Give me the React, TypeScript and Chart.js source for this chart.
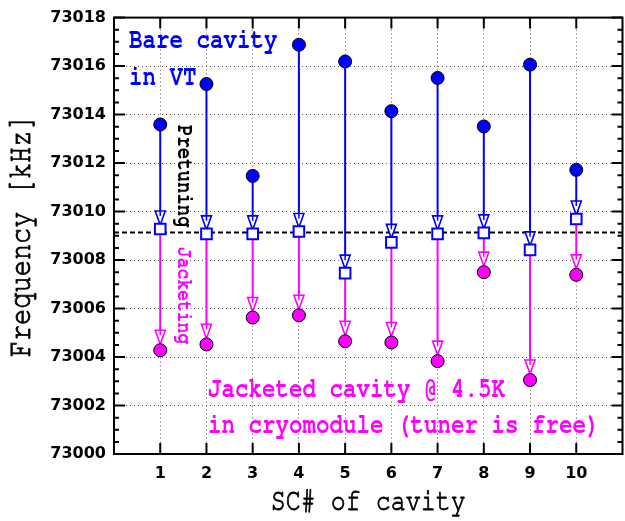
import React, { useEffect, useRef } from 'react';
import { Chart, registerables } from 'chart.js';

Chart.register(...registerables);

// ---- data ----
const CAVITIES = [1, 2, 3, 4, 5, 6, 7, 8, 9, 10];
const BARE_VT = [73013.59, 73015.26, 73011.47, 73016.88, 73016.19, 73014.14, 73015.51, 73013.51, 73016.06, 73011.72];
const PRETUNED = [73009.28, 73009.08, 73009.08, 73009.18, 73007.46, 73008.73, 73009.08, 73009.12, 73008.42, 73009.69];
const JACKETED = [73004.28, 73004.52, 73005.63, 73005.72, 73004.65, 73004.6, 73003.83, 73007.5, 73003.05, 73007.39];
const TARGET = 73009.14;
const Y_TICKS = [73000, 73002, 73004, 73006, 73008, 73010, 73012, 73014, 73016, 73018];
const X_MIN = 0;
const X_MAX = 11;
const X_TITLE = 'SC# of cavity';
const Y_TITLE = 'Frequency [kHz]';

const BLUE = '#0000ff';
const MAGENTA = '#ff00ff';
const MONO = 'FreeMono, "Courier New", monospace';
const TICKFONT = '"DejaVu Sans", sans-serif';
const STRETCH = 1.25;

function drawArrow(ctx: CanvasRenderingContext2D, x: number, y0: number, tip: number, color: string) {
  const hh = 14;
  const hw = 5;
  ctx.save();
  ctx.setLineDash([]);
  ctx.strokeStyle = color;
  ctx.lineWidth = 2;
  ctx.beginPath();
  ctx.moveTo(x, y0);
  ctx.lineTo(x, tip - hh + 2);
  ctx.stroke();
  ctx.beginPath();
  ctx.moveTo(x - hw, tip - hh);
  ctx.lineTo(x + hw, tip - hh);
  ctx.lineTo(x, tip);
  ctx.closePath();
  ctx.fillStyle = '#ffffff';
  ctx.fill();
  ctx.lineWidth = 1.6;
  ctx.stroke();
  ctx.beginPath();
  ctx.moveTo(x, tip - hh);
  ctx.lineTo(x, tip - hh + 5);
  ctx.lineWidth = 1.5;
  ctx.stroke();
  ctx.restore();
}

function tallText(
  ctx: CanvasRenderingContext2D,
  text: string,
  x: number,
  y: number,
  font: string,
  color: string,
  rotation: number,
  align: CanvasTextAlign,
  strokeW: number
) {
  ctx.save();
  ctx.translate(x, y);
  ctx.rotate(rotation);
  ctx.scale(1, STRETCH);
  ctx.font = font;
  ctx.fillStyle = color;
  ctx.textAlign = align;
  ctx.textBaseline = 'alphabetic';
  ctx.fillText(text, 0, 0);
  if (strokeW > 0) {
    ctx.strokeStyle = color;
    ctx.lineWidth = strokeW;
    ctx.strokeText(text, 0, 0);
  }
  ctx.restore();
}

const decor = {
  id: 'cavityDecor',
  beforeDatasetsDraw(chart: any) {
    const { ctx, chartArea, scales } = chart;
    const xs = scales.x;
    const ys = scales.y;
    ctx.save();
    ctx.beginPath();
    ctx.rect(chartArea.left, chartArea.top, chartArea.right - chartArea.left, chartArea.bottom - chartArea.top);
    ctx.clip();
    const ty = ys.getPixelForValue(TARGET);
    ctx.strokeStyle = '#000';
    ctx.lineWidth = 2;
    ctx.setLineDash([5, 3]);
    ctx.beginPath();
    ctx.moveTo(chartArea.left, ty);
    ctx.lineTo(chartArea.right, ty);
    ctx.stroke();
    ctx.setLineDash([]);
    CAVITIES.forEach((c, i) => {
      const px = xs.getPixelForValue(c);
      drawArrow(ctx, px, ys.getPixelForValue(BARE_VT[i]), ys.getPixelForValue(PRETUNED[i]) - 4, BLUE);
      drawArrow(ctx, px, ys.getPixelForValue(PRETUNED[i]), ys.getPixelForValue(JACKETED[i]) - 6, MAGENTA);
    });
    ctx.restore();
  },
  afterDraw(chart: any) {
    const { ctx, chartArea, scales } = chart;
    const xs = scales.x;
    const ys = scales.y;
    const { left, right, top, bottom } = chartArea;
    ctx.save();
    ctx.strokeStyle = '#000';
    ctx.lineWidth = 2;
    ctx.setLineDash([]);
    ctx.beginPath();
    Y_TICKS.forEach((v) => {
      const py = ys.getPixelForValue(v);
      ctx.moveTo(left, py);
      ctx.lineTo(left + 11, py);
      ctx.moveTo(right, py);
      ctx.lineTo(right - 11, py);
    });
    for (let k = 0; k < Y_TICKS.length - 1; k++) {
      const a = Y_TICKS[k];
      const b = Y_TICKS[k + 1];
      for (let m = 1; m < 4; m++) {
        const py = ys.getPixelForValue(a + ((b - a) * m) / 4);
        ctx.moveTo(left, py);
        ctx.lineTo(left + 5, py);
        ctx.moveTo(right, py);
        ctx.lineTo(right - 5, py);
      }
    }
    CAVITIES.forEach((c) => {
      const px = xs.getPixelForValue(c);
      ctx.moveTo(px, bottom);
      ctx.lineTo(px, bottom - 11);
      ctx.moveTo(px, top);
      ctx.lineTo(px, top + 11);
    });
    ctx.stroke();
    ctx.strokeRect(left, top, right - left, bottom - top);

    // axis titles
    tallText(ctx, X_TITLE, (left + right) / 2, 510, `25px ${MONO}`, '#000', 0, 'center', 0.7);
    tallText(ctx, Y_TITLE, 30, (top + bottom) / 2, `27px ${MONO}`, '#000', -Math.PI / 2, 'center', 0.7);

    // annotations
    const ann = `bold 22.5px ${MONO}`;
    tallText(ctx, 'Bare cavity', 129, 48, ann, BLUE, 0, 'left', 0);
    tallText(ctx, 'in VT', 129, 85, ann, BLUE, 0, 'left', 0);
    tallText(ctx, 'Jacketed cavity @ 4.5K', 208, 397, ann, MAGENTA, 0, 'left', 0);
    tallText(ctx, 'in cryomodule (tuner is free)', 208, 433, ann, MAGENTA, 0, 'left', 0);
    tallText(ctx, 'Pretuning', 178, 125, `bold 19px ${MONO}`, '#000', Math.PI / 2, 'left', 0);
    tallText(ctx, 'Jacketing', 178, 247, `bold 18px ${MONO}`, MAGENTA, Math.PI / 2, 'left', 0);

    ctx.restore();
  },
};

export default function App() {
  const ref = useRef<HTMLCanvasElement | null>(null);

  useEffect(() => {
    if (!ref.current) return;
    const pts = (arr: number[]) => CAVITIES.map((c, i) => ({ x: c, y: arr[i] }));
    const chart = new Chart(ref.current, {
      type: 'scatter',
      data: {
        datasets: [
          {
            label: 'Bare cavity in VT',
            data: pts(BARE_VT),
            pointStyle: 'circle',
            pointRadius: 6.5,
            backgroundColor: BLUE,
            borderColor: '#000',
            borderWidth: 1,
          },
          {
            label: 'Pretuned',
            data: pts(PRETUNED),
            pointStyle: 'rect',
            pointRadius: 7.5,
            backgroundColor: '#fff',
            borderColor: BLUE,
            borderWidth: 2,
          },
          {
            label: 'Jacketed cavity in cryomodule',
            data: pts(JACKETED),
            pointStyle: 'circle',
            pointRadius: 6.5,
            backgroundColor: MAGENTA,
            borderColor: '#000',
            borderWidth: 1,
          },
        ],
      },
      options: {
        animation: false,
        responsive: false,
        devicePixelRatio: 1,
        layout: { padding: { left: 0, top: 16, right: 5, bottom: 0 } },
        plugins: { legend: { display: false }, tooltip: { enabled: false } },
        scales: {
          x: {
            type: 'linear',
            min: X_MIN,
            max: X_MAX,
            afterBuildTicks: (s: any) => {
              s.ticks = CAVITIES.map((v) => ({ value: v }));
            },
            afterFit: (s: any) => {
              s.height = 67;
            },
            ticks: {
              callback: (v: any) => String(v),
              font: { family: TICKFONT, size: 16, weight: 'bold' },
              color: '#000',
              padding: 10,
              autoSkip: false,
              maxRotation: 0,
            },
            grid: { color: '#555', lineWidth: 1, drawTicks: false },
            border: { display: false, dash: [1, 3] },
            title: { display: false },
          },
          y: {
            type: 'linear',
            min: 73000,
            max: 73018,
            afterBuildTicks: (s: any) => {
              s.ticks = Y_TICKS.map((v) => ({ value: v }));
            },
            afterFit: (s: any) => {
              s.width = 114;
            },
            ticks: {
              callback: (v: any) => String(v),
              font: { family: TICKFONT, size: 16, weight: 'bold' },
              color: '#000',
              padding: 8,
            },
            grid: {
              color: (c: any) =>
                c.tick && (c.tick.value === Y_TICKS[0] || c.tick.value === Y_TICKS[Y_TICKS.length - 1])
                  ? 'rgba(0,0,0,0)'
                  : '#555',
              lineWidth: 1,
              drawTicks: false,
            },
            border: { display: false, dash: [1, 3] },
            title: { display: false },
          },
        },
      },
      plugins: [decor],
    } as any);
    return () => chart.destroy();
  }, []);

  return (
    <div
      style={{
        position: 'absolute',
        left: 0,
        top: 0,
        width: 625,
        height: 521,
        overflow: 'hidden',
        background: '#fff',
      }}
    >
      <canvas ref={ref} width={632} height={521} style={{ display: 'block' }} />
    </div>
  );
}
